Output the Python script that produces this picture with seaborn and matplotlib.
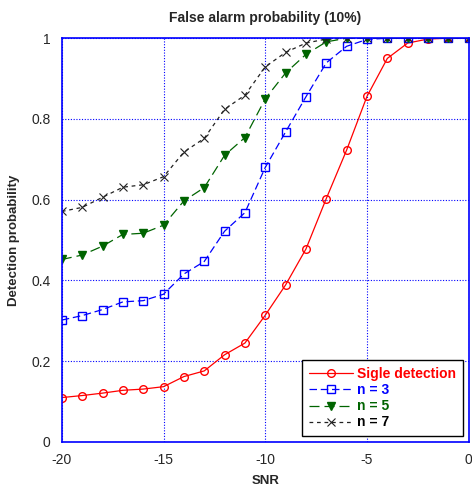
import matplotlib
matplotlib.use("Agg")
import matplotlib.pyplot as plt
import seaborn as sns
import numpy as np
import pandas as pd

# Data
snr = list(range(-20, 1))
single = [0.110, 0.115, 0.121, 0.128, 0.131, 0.137, 0.162, 0.176, 0.216, 0.245,
          0.314, 0.389, 0.478, 0.603, 0.723, 0.856, 0.950, 0.988, 0.998, 1.0, 1.0]
n3 = [0.302, 0.313, 0.328, 0.347, 0.350, 0.366, 0.416, 0.447, 0.522, 0.568,
      0.680, 0.768, 0.855, 0.939, 0.980, 0.997, 1.0, 1.0, 1.0, 1.0, 1.0]
n5 = [0.452, 0.463, 0.485, 0.514, 0.517, 0.537, 0.597, 0.630, 0.710, 0.754,
      0.850, 0.914, 0.960, 0.991, 1.0, 1.0, 1.0, 1.0, 1.0, 1.0, 1.0]
n7 = [0.571, 0.581, 0.606, 0.631, 0.637, 0.657, 0.718, 0.752, 0.824, 0.859,
      0.929, 0.965, 0.988, 0.998, 1.0, 1.0, 1.0, 1.0, 1.0, 1.0, 1.0]
labels = ["Sigle detection", "n = 3", "n = 5", "n = 7"]

sns.set_style("white")
plt.rcParams["font.family"] = ["Liberation Sans", "DejaVu Sans"]
plt.rcParams["axes.unicode_minus"] = False

fig = plt.figure(figsize=(4.72, 4.90), dpi=100)
ax = fig.add_axes([0.131, 0.098, 0.862, 0.824])

# values, colour, line style, marker, marker face, marker edge width
series = [
    (single, "red", "-", "o", "none", 1.0),
    (n3, "#0000ff", (0, (6, 3)), "s", "none", 1.0),
    (n5, "#006400", (0, (8, 4)), "v", "#006400", 1.0),
    (n7, "#222222", (0, (3, 3)), "x", "none", 0.8),
]
for (vals, col, ls, mk, mfc, mew), lab in zip(series, labels):
    sns.lineplot(x=snr, y=vals, ax=ax, color=col, linestyle=ls, linewidth=0.9,
                 marker=mk, markersize=5.5, markerfacecolor=mfc,
                 markeredgecolor=col, markeredgewidth=mew, label=lab)

ax.set_xlim(-20, 0)
ax.set_ylim(0, 1)
ax.set_xticks([-20, -15, -10, -5, 0])
ax.set_yticks([0, 0.2, 0.4, 0.6, 0.8, 1])
ax.set_yticklabels(["0", "0.2", "0.4", "0.6", "0.8", "1"])
ax.tick_params(length=0, labelsize=10, pad=8)
ax.grid(True, color="#0000ff", linestyle=(0, (1, 1.5)), linewidth=0.8)
for s in ax.spines.values():
    s.set_color("#0000ff")
    s.set_linewidth(1.2)

ax.set_title("False alarm probability (10%)", fontsize=10, fontweight="bold", pad=12)
ax.set_xlabel("SNR", fontsize=9.5, fontweight="bold", labelpad=6)
ax.set_ylabel("Detection probability", fontsize=9.5, fontweight="bold", labelpad=8)

leg = ax.legend(loc="lower right", fontsize=10, frameon=True, fancybox=False,
                framealpha=1, edgecolor="black", borderaxespad=0.4,
                handlelength=3.2, handletextpad=0.3, labelspacing=0.15,
                borderpad=0.5)
leg.get_frame().set_linewidth(1.0)
for txt, (_, col, _, _, _, _) in zip(leg.get_texts(), series):
    txt.set_color("black" if col == "#222222" else col)
    txt.set_fontweight("bold")

fig.savefig("out.png", dpi=100)
